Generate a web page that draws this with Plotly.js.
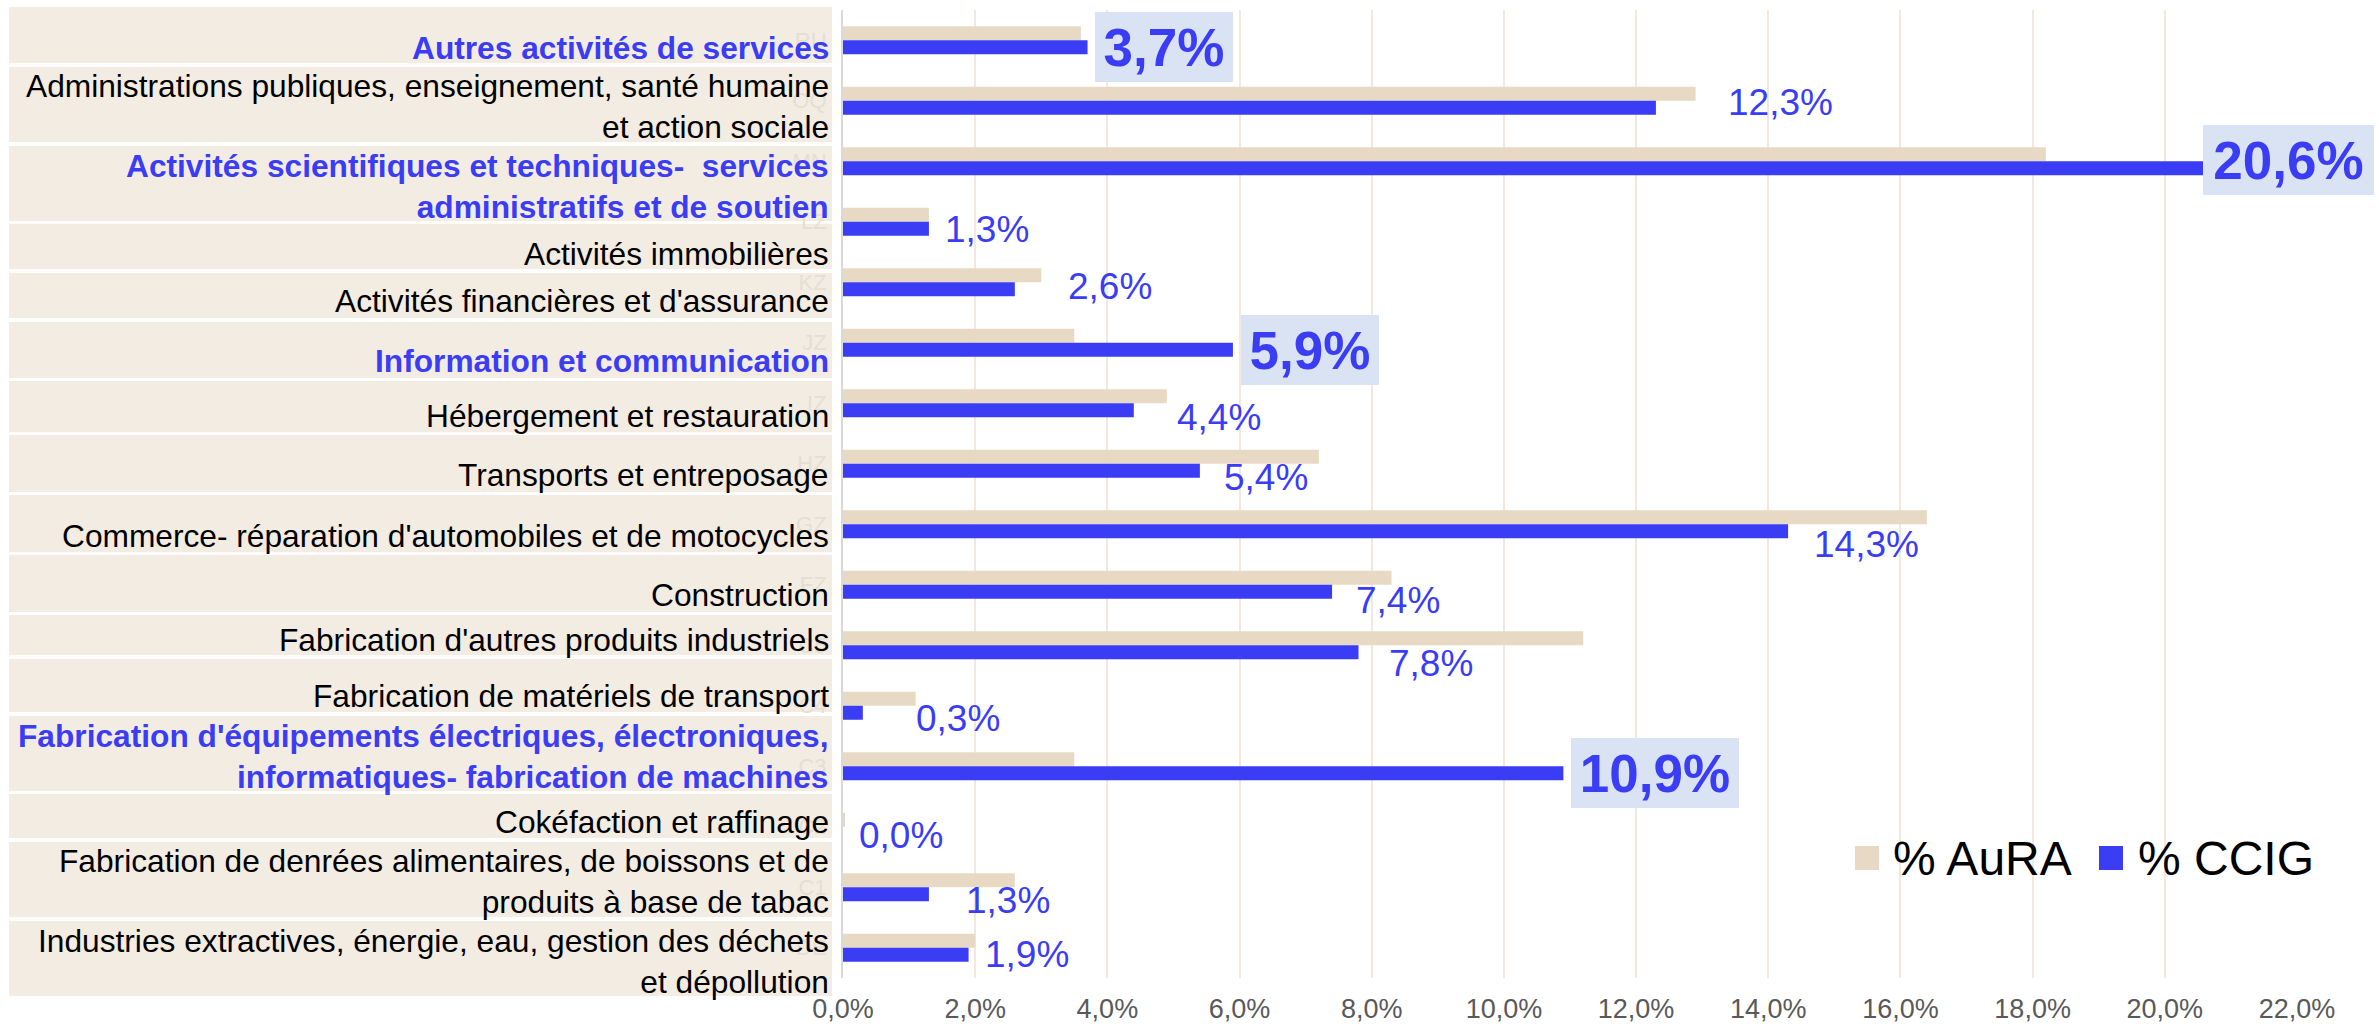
<!DOCTYPE html>
<html>
<head>
<meta charset="utf-8">
<script src="https://cdn.plot.ly/plotly-3.0.1.min.js"></script>
<style>
  html, body { margin: 0; padding: 0; background: #ffffff; }
  #chart { width: 2379px; height: 1024px; }
</style>
</head>
<body>
<div id="chart"></div>
<script>
// ---------------- DATA ----------------
const codes = ['RU', 'OQ', 'MN', 'LZ', 'KZ', 'JZ', 'IZ', 'HZ', 'GZ', 'FZ', 'C5', 'C4', 'C3', 'C2', 'C1', 'DE'];
const sectors = [
  "Autres activités de services",
  "Administrations publiques, enseignement, santé humaine<br>et action sociale",
  "Activités scientifiques et techniques-\u00a0 services<br>administratifs et de soutien",
  "Activités immobilières",
  "Activités financières et d'assurance",
  "Information et communication",
  "Hébergement et restauration",
  "Transports et entreposage",
  "Commerce- réparation d'automobiles et de motocycles",
  "Construction",
  "Fabrication d'autres produits industriels",
  "Fabrication de matériels de transport",
  "Fabrication d'équipements électriques, électroniques,<br>informatiques- fabrication de machines",
  "Cokéfaction et raffinage",
  "Fabrication de denrées alimentaires, de boissons et de<br>produits à base de tabac",
  "Industries extractives, énergie, eau, gestion des déchets<br>et dépollution"
];
const auraPct = [3.6, 12.9, 18.2, 1.3, 3.0, 3.5, 4.9, 7.2, 16.4, 8.3, 11.2, 1.1, 3.5, 0.03, 2.6, 2.0];
const ccigPct = [3.7, 12.3, 20.6, 1.3, 2.6, 5.9, 4.4, 5.4, 14.3, 7.4, 7.8, 0.3, 10.9, 0.0, 1.3, 1.9];
const highlighted = [true, false, true, false, false, true, false, false, false, false, false, false, true, false, false, false];
const seriesNames = ['% AuRA', '% CCIG'];
const xTicks = [0, 2, 4, 6, 8, 10, 12, 14, 16, 18, 20, 22];

// ---------------- LAYOUT / STYLE ----------------
const W = 2379, H = 1024;
const M = { l: 843, r: 82, t: 10, b: 46 };
const plotW = W - M.l - M.r, plotH = H - M.t - M.b;
const px2paperX = px => (px - M.l) / plotW;
const px2paperY = py => 1 - (py - M.t) / plotH;

const BEIGE = '#e8d9c5', BLUE = '#3a3df4', PANEL = '#f3ece3', BOXBG = '#dae3f3';
const FONT = 'Liberation Sans, Arial, sans-serif';

// label panel rows (pixel top/bottom) and text centre
const rowTop    = [7, 67, 146, 224, 273, 322, 381, 435, 495, 555, 615, 659, 716, 794, 842, 921];
const rowBottom = [63, 142, 221, 269, 318, 378, 432, 492, 552, 612, 655, 712, 791, 838, 917, 996];
const rowTextY  = [48, 107, 186, 254, 301, 361, 416, 475, 536, 595, 640, 696, 756, 822, 881, 961];
const panelLeft = 9, panelRight = 832, textRight = 831;

// data label offsets (px) from bar end / from blue-bar centre
const lblDx = [7, 70, -1, 14, 51, 8, 41, 22, 24, 22, 28, 51, 8, 14, 35, 14];
const lblDy = [-0.5, -5.5, -8.5, 1, -2.5, 0, 7, 6.5, 13, 9, 11.5, 6, 0, 1.5, 6, 0];
const boxW  = [138, 0, 171, 0, 0, 138, 0, 0, 0, 0, 0, 0, 168, 0, 0, 0];
const BAR_PX = 14;

const fmt = v => v.toFixed(1).replace('.', ',') + '%';

const traces = [
  { type: 'bar', orientation: 'h', name: seriesNames[0], x: auraPct, y: codes,
    marker: { color: BEIGE }, hoverinfo: 'skip', showlegend: false },
  { type: 'bar', orientation: 'h', name: seriesNames[1], x: ccigPct, y: codes,
    marker: { color: BLUE }, hoverinfo: 'skip', showlegend: false }
];

const shapes = [];
const annotations = [];

// label panel
for (let i = 0; i < codes.length; i++) {
  shapes.push({ type: 'rect', xref: 'paper', yref: 'paper', layer: 'below',
    x0: px2paperX(panelLeft), x1: px2paperX(panelRight),
    y0: px2paperY(rowBottom[i]), y1: px2paperY(rowTop[i]),
    fillcolor: PANEL, line: { width: 0 } });
  annotations.push({ xref: 'paper', yref: 'paper', x: px2paperX(textRight), y: px2paperY(rowTextY[i]),
    xanchor: 'right', yanchor: 'middle', align: 'right', showarrow: false,
    text: highlighted[i] ? '<b>' + sectors[i] + '</b>' : sectors[i],
    font: { family: FONT, size: 31.7, color: highlighted[i] ? BLUE : '#000000' } });
}

// data labels for CCIG
for (let i = 0; i < codes.length; i++) {
  const a = { xref: 'x', yref: 'y', x: ccigPct[i], y: codes[i], xanchor: 'left', yanchor: 'middle',
    showarrow: false, xshift: lblDx[i], yshift: -(BAR_PX / 2) - lblDy[i], text: fmt(ccigPct[i]) };
  if (highlighted[i]) {
    a.text = '<b>' + a.text + '</b>';
    a.font = { family: FONT, size: 53, color: BLUE };
    a.bgcolor = BOXBG; a.borderpad = 0; a.borderwidth = 0;
    a.width = boxW[i]; a.height = 70; a.align = 'center';
  } else {
    a.font = { family: FONT, size: 37, color: BLUE };
  }
  annotations.push(a);
}

// manual legend
const legX = [1855, 2099], legTextX = [1891, 2136], legY = 858;
[BEIGE, BLUE].forEach((c, k) => {
  shapes.push({ type: 'rect', xref: 'paper', yref: 'paper',
    x0: px2paperX(legX[k]), x1: px2paperX(legX[k] + 24),
    y0: px2paperY(legY + 12), y1: px2paperY(legY - 12),
    fillcolor: c, line: { width: 0 } });
  annotations.push({ xref: 'paper', yref: 'paper', x: px2paperX(legTextX[k]), y: px2paperY(legY),
    xanchor: 'left', yanchor: 'middle', showarrow: false, text: seriesNames[k],
    font: { family: FONT, size: 48, color: '#000000' } });
});

const layout = {
  width: W, height: H,
  margin: M,
  paper_bgcolor: '#ffffff', plot_bgcolor: '#ffffff',
  separators: ',.',
  barmode: 'group', bargap: 0.537, bargroupgap: 0,
  showlegend: false,
  font: { family: FONT },
  xaxis: {
    range: [0, 22], autorange: false, tickvals: xTicks, ticktext: xTicks.map(v => fmt(v)),
    showgrid: true, gridcolor: '#f2e8de', gridwidth: 2,
    zeroline: false, showline: false, ticks: '', ticklabelstandoff: 12,
    tickfont: { family: FONT, size: 27, color: '#595959' }, fixedrange: true
  },
  yaxis: {
    type: 'category', autorange: false, range: [codes.length - 0.5, -0.5],
    categoryorder: 'array', categoryarray: codes,
    showgrid: false, zeroline: false, showline: true, linecolor: '#d9d9d9', linewidth: 2,
    ticks: '', ticklabelstandoff: 10,
    tickfont: { family: FONT, size: 22, color: '#e6ded3' }, fixedrange: true
  },
  shapes: shapes,
  annotations: annotations
};

Plotly.newPlot('chart', traces, layout, { displayModeBar: false, staticPlot: true });
</script>
</body>
</html>
